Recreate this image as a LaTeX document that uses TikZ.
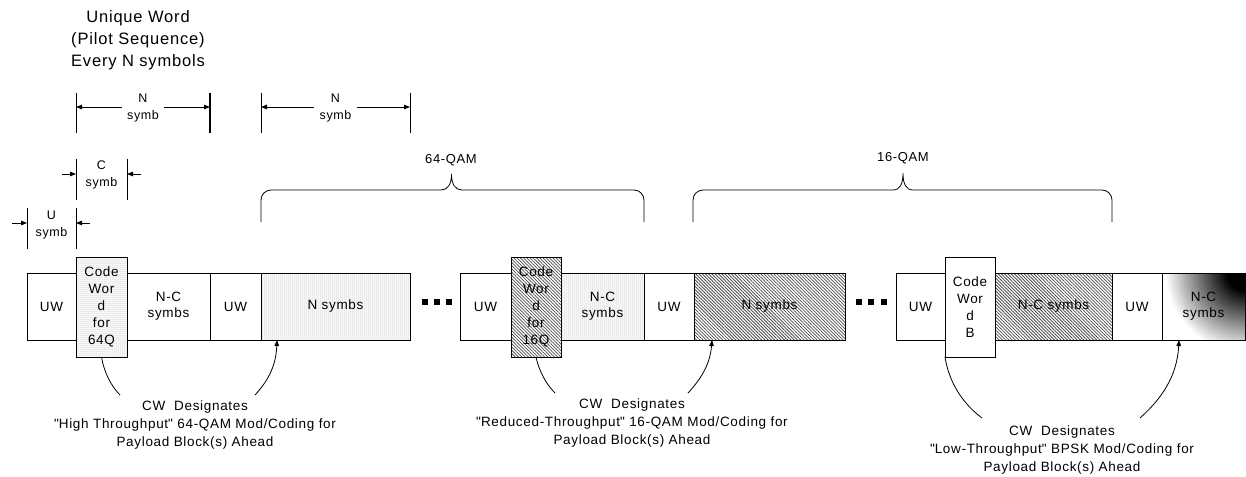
\documentclass[tikz,border=0pt]{standalone}
\usepackage{fontspec}
\setmainfont{Liberation Sans}[LetterSpace=5]
\newfontfamily\qfam{Liberation Sans}[LetterSpace=5,Ligatures=TeXOff]
\usetikzlibrary{arrows.meta,patterns.meta,calc}
\newcommand{\sq}{{\qfam"}}
\begin{document}
\begin{tikzpicture}[x=1pt,y=-1pt, line width=0.8pt,
 blk/.style={draw, inner sep=0pt, outer sep=0pt, minimum height=67pt, font=\fontsize{13.5}{16}\selectfont, align=center},
 cwbox/.style={draw, inner sep=0pt, outer sep=0pt, minimum height=100pt, minimum width=50pt, font=\fontsize{13.5}{17}\selectfont, align=center},
 dotfill/.style={pattern={Dots[radius=0.5pt,distance=2pt]}, pattern color=gray!75},
 hatch/.style={pattern={Lines[angle=-45,distance=2.3pt,line width=0.75pt]}, pattern color=black!70},
 arr/.style={-{Triangle[length=6pt,width=4.5pt]}},
 lbl/.style={font=\fontsize{12.5}{17}\selectfont, align=center, inner sep=0pt},
 captxt/.style={font=\fontsize{13.5}{18}\selectfont, align=center, inner sep=0pt},
 bar/.style={line width=0.9pt},
 cornerfade/.style={path picture={
   \foreach \rr in {80,78,...,2} {
     \pgfmathsetmacro{\pct}{min(100,130*(1-\rr/80))}
     \fill[black!\pct!white] (path picture bounding box.north east) circle (\rr pt);
   }}}
]
\useasboundingbox (0,0) rectangle (1246,476);

% title
\node[font=\fontsize{16.5}{22}\selectfont, align=center, inner sep=0pt] (title) at (138,40) {Unique Word\\(Pilot Sequence)\\Every N symbols};

% dimension: N symb 1
\draw[bar] (76,93) -- (76,133);
\draw[bar, line width=1.4pt] (210,93) -- (210,133);
\node[lbl, inner xsep=5pt] (n1) at (143,108) {N\\symb};
\coordinate (n1l) at (76,107);
\coordinate (n1r) at (210,107);
\draw[arr] (n1.west |- n1l) -- (n1l);
\draw[arr] (n1.east |- n1r) -- (n1r);

% dimension: N symb 2
\draw[bar] (261,93) -- (261,133);
\draw[bar] (410,93) -- (410,133);
\node[lbl, inner xsep=5pt] (n2) at (335.5,108) {N\\symb};
\coordinate (n2l) at (261,107);
\coordinate (n2r) at (410,107);
\draw[arr] (n2.west |- n2l) -- (n2l);
\draw[arr] (n2.east |- n2r) -- (n2r);

% dimension: C symb
\draw[bar] (76,159) -- (76,200);
\draw[bar] (127,159) -- (127,200);
\node[lbl] (csy) at (101.5,175) {C\\symb};
\coordinate (cl0) at (62,174);  \coordinate (cl1) at (76,174);
\coordinate (cr0) at (141,174); \coordinate (cr1) at (127,174);
\draw[arr] (cl0) -- (cl1);
\draw[arr] (cr0) -- (cr1);

% dimension: U symb
\draw[bar] (27,208) -- (27,249);
\draw[bar] (76,208) -- (76,249);
\node[lbl] (usy) at (51.5,225) {U\\symb};
\coordinate (ul0) at (12,223); \coordinate (ul1) at (27,223);
\coordinate (ur0) at (90,223); \coordinate (ur1) at (76,223);
\draw[arr] (ul0) -- (ul1);
\draw[arr] (ur0) -- (ur1);

% braces
\node[lbl, font=\fontsize{13}{16}\selectfont] (q64) at (451,160) {64-QAM};
\draw (261,222) -- (261,200) .. controls (261,194.5) and (265.5,190) .. (271,190)
  -- (441,190) .. controls (448,190) and (451.5,184) .. (451.5,174)
  .. controls (451.5,184) and (455,190) .. (462,190)
  -- (634,190) .. controls (639.5,190) and (644,194.5) .. (644,200) -- (644,222);
\node[lbl, font=\fontsize{13}{16}\selectfont] (q16) at (903,158) {16-QAM};
\draw (693,222) -- (693,200) .. controls (693,194.5) and (697.5,190) .. (703,190)
  -- (893,190) .. controls (900,190) and (903,184) .. (903,173)
  .. controls (903,184) and (906,190) .. (913,190)
  -- (1102,190) .. controls (1107.5,190) and (1112,194.5) .. (1112,200) -- (1112,222);

% strip 1
\node[blk, minimum width=49pt] (uw1) at (51.5,306.5) {UW};
\node[blk, minimum width=83pt] (nc1) at (168.5,306.5) {N-C\\symbs};
\node[blk, minimum width=51pt] (uw2) at (235.5,306.5) {UW};
\node[blk, dotfill, minimum width=149pt] (ns1) at (335.5,306.5) {N symbs};
\node[cwbox, dotfill, minimum width=51pt] (cw1) at (101.5,307) {Code\\Wor\\d\\for\\64Q};

% dots 1
\fill (421.7,298.7) rectangle ++(6,6);
\fill (433.7,298.7) rectangle ++(6,6);
\fill (445.7,298.7) rectangle ++(6,6);

% strip 2
\node[blk, minimum width=51pt] (uw3) at (485.5,306.5) {UW};
\node[blk, dotfill, minimum width=83pt] (nc2) at (602.5,306.5) {N-C\\symbs};
\node[blk, minimum width=50pt] (uw4) at (669,306.5) {UW};
\node[blk, hatch, minimum width=151pt] (ns2) at (769.5,306.5) {N symbs};
\node[cwbox, hatch] (cw2) at (536,307) {Code\\Wor\\d\\for\\16Q};

% dots 2
\fill (855.5,298.7) rectangle ++(6,6);
\fill (868,298.7) rectangle ++(6,6);
\fill (880.5,298.7) rectangle ++(6,6);

% strip 3
\node[blk, minimum width=49pt] (uw5) at (920.5,306.5) {UW};
\node[blk, hatch, minimum width=117pt] (nc3) at (1053.5,306.5) {N-C symbs};
\node[blk, minimum width=50pt] (uw6) at (1137,306.5) {UW};
\node[blk, cornerfade, minimum width=83pt] (nc4) at (1203.5,306.5) {N-C\\symbs};
\node[cwbox, fill=white] (cw3) at (970,307) {Code\\Wor\\d\\B};

% captions
\node[captxt] (t1) at (195,425) {CW\ \ Designates\\\sq High Throughput\sq{} 64-QAM Mod/Coding for\\Payload Block(s) Ahead};
\node[captxt] (t2) at (632,423) {CW\ \ Designates\\\sq Reduced-Throughput\sq{} 16-QAM Mod/Coding for\\Payload Block(s) Ahead};
\node[captxt] (t3) at (1062,450) {CW\ \ Designates\\\sq Low-Throughput\sq{} BPSK Mod/Coding for\\Payload Block(s) Ahead};

% connectors
\coordinate (e1a) at (120,395);
\coordinate (e1b) at (255,395);
\draw (cw1.south) .. controls (104,372) and (111,386) .. (e1a);
\draw[arr] (e1b) .. controls (266,383) and (276,368) .. ([xshift=16pt]ns1.south west);

\coordinate (e2a) at (555,393);
\coordinate (e2b) at (688,393);
\draw (cw2.south) .. controls (539,371) and (546,384) .. (e2a);
\draw[arr] (e2b) .. controls (699,381) and (710,366) .. ([xshift=18pt]ns2.south west);

\coordinate (e3a) at (982,418);
\coordinate (e3b) at (1140,418);
\draw (cw3.south west) .. controls (949,382) and (962,403) .. (e3a);
\draw[arr] (e3b) .. controls (1160,400) and (1177,378) .. ([xshift=17pt]nc4.south west);
\end{tikzpicture}
\end{document}
